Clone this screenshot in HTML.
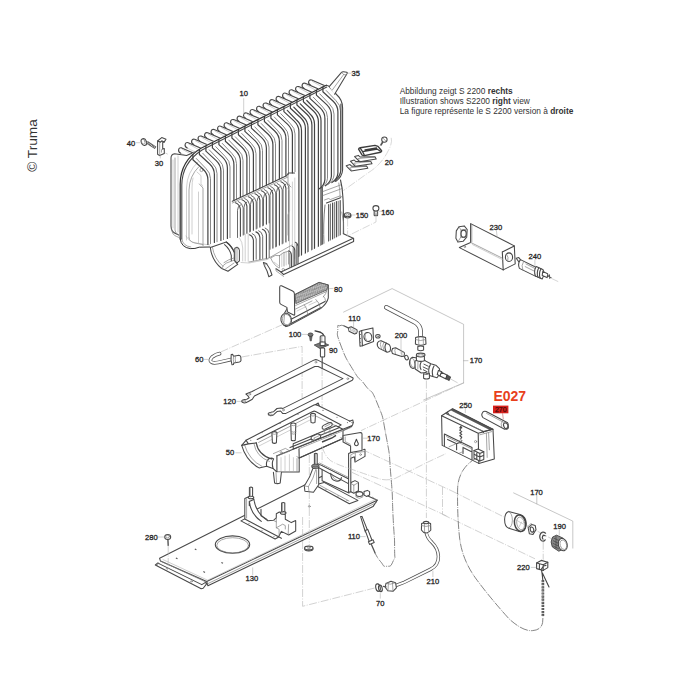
<!DOCTYPE html>
<html><head><meta charset="utf-8"><title>Truma S 2200</title>
<style>
html,body{margin:0;padding:0;background:#fff;}
body{width:700px;height:700px;overflow:hidden;font-family:"Liberation Sans",sans-serif;}
svg{display:block;position:absolute;left:0;top:0;}
svg text{font-family:"Liberation Sans",sans-serif;}
.l{fill:none;stroke:#484848;stroke-width:1.1;stroke-linecap:round;stroke-linejoin:round}
.m{fill:none;stroke:#808080;stroke-width:.7;stroke-linecap:round;stroke-linejoin:round}
.g{fill:none;stroke:#a8a8a8;stroke-width:.55;stroke-linecap:round;stroke-linejoin:round}
.l2{fill:none;stroke:#5a5a5a;stroke-width:.9;stroke-linecap:round;stroke-linejoin:round}
.f1{fill:none;stroke:#444;stroke-width:1.2;stroke-linecap:round;stroke-linejoin:round}
.f2{fill:none;stroke:#7a7a7a;stroke-width:.9;stroke-linecap:round;stroke-linejoin:round}
.g2{fill:none;stroke:#727272;stroke-width:.95;stroke-linecap:round;stroke-linejoin:round}
.w{fill:#fff;stroke:#484848;stroke-width:1.05;stroke-linejoin:round;stroke-linecap:round}
.wm{fill:#fff;stroke:#777;stroke-width:.6;stroke-linejoin:round}
.d{fill:none;stroke:#b4b4b4;stroke-width:.6;stroke-dasharray:8 1.5 1 1.5}
.dd{fill:none;stroke:#666;stroke-width:.8;stroke-dasharray:8.5 1.1 .9 1.1}
.t{font-size:7.6px;fill:#262626;text-anchor:middle;stroke:#262626;stroke-width:.3}
.k{fill:none;stroke:#333;stroke-width:1;stroke-linecap:round;stroke-linejoin:round}
</style></head><body>
<svg width="700" height="700" viewBox="0 0 700 700">
<rect width="700" height="700" fill="#fff"/>
<!-- p00_text.py -->
<g font-size="8.33" fill="#333">
<text x="399.7" y="93.8">Abbildung zeigt S 2200 <tspan font-weight="bold">rechts</tspan></text>
<text x="399.7" y="104.1">Illustration shows S2200 <tspan font-weight="bold">right</tspan> view</text>
<text x="399.7" y="114.3">La figure représente le S 2200 version à <tspan font-weight="bold">droite</tspan></text>
</g>
<text transform="translate(37,171.8) rotate(-90)" font-size="13.7" fill="#333">© Truma</text>
<text class="t" x="243.7" y="96.45">10</text>
<text class="t" x="355.7" y="76.35">35</text>
<text class="t" x="131" y="145.55">40</text>
<text class="t" x="159" y="166.05">30</text>
<text class="t" x="389" y="165.45">20</text>
<text class="t" x="362" y="217.75">150</text>
<text class="t" x="387.7" y="215.25">160</text>
<text class="t" x="495.9" y="229.55">230</text>
<text class="t" x="534.9" y="258.75">240</text>
<text class="t" x="338.3" y="292.05">80</text>
<text class="t" x="354.4" y="320.95">110</text>
<text class="t" x="401" y="337.65">200</text>
<text class="t" x="295" y="337.05">100</text>
<text class="t" x="333.2" y="353.45">90</text>
<text class="t" x="199.3" y="362.05">60</text>
<text class="t" x="229.6" y="404.15">120</text>
<text class="t" x="476" y="363.15">170</text>
<text class="t" x="230.1" y="455.45">50</text>
<text class="t" x="373.6" y="440.65">170</text>
<text class="t" x="465.6" y="407.85">250</text>
<text class="t" x="536.5" y="494.65">170</text>
<text class="t" x="559.7" y="529.35">190</text>
<text class="t" x="523.3" y="569.85">220</text>
<text class="t" x="151.4" y="539.65">280</text>
<text class="t" x="251.8" y="581.45">130</text>
<text class="t" x="354" y="539.35">110</text>
<text class="t" x="432.9" y="583.65">210</text>
<text class="t" x="380.3" y="605.95">70</text>
<text x="493.4" y="401.3" font-size="14" font-weight="bold" fill="#e8401c">E027</text>
<rect x="493" y="405.6" width="15.4" height="7.7" fill="#d8201c"/>
<text x="500.8" y="412" font-size="7" fill="#4a0808" stroke="#4a0808" stroke-width=".25" text-anchor="middle">270</text>
<!-- p10_heatex.py -->
<g><path fill="#fff" stroke="none" d="M317.7 88.9 L310.7 85.3 q-2.8 -1.4 -2 -3.9 q.7 -2 3 -1.4 L324.4 85.5Z"/><path class="g" d="M317.7 88.9 L310.7 85.3"/><path class="l" d="M310.7 85.3 q-2.8 -1.4 -2 -3.9 q.7 -2 3 -1.4 L324.4 85.5"/><path class="g" d="M312.3 81.4 L321.9 86.7"/><path fill="#fff" stroke="none" d="M311.2 92.2 L304.2 88.6 q-2.8 -1.4 -2 -3.9 q.7 -2 3 -1.4 L317.9 88.8Z"/><path class="g" d="M311.2 92.2 L304.2 88.6"/><path class="l" d="M304.2 88.6 q-2.8 -1.4 -2 -3.9 q.7 -2 3 -1.4 L317.9 88.8"/><path class="g" d="M305.8 84.7 L315.4 90"/><path fill="#fff" stroke="none" d="M304.7 95.5 L297.7 91.9 q-2.8 -1.4 -2 -3.9 q.7 -2 3 -1.4 L311.4 92.1Z"/><path class="g" d="M304.7 95.5 L297.7 91.9"/><path class="l" d="M297.7 91.9 q-2.8 -1.4 -2 -3.9 q.7 -2 3 -1.4 L311.4 92.1"/><path class="g" d="M299.3 88 L308.9 93.3"/><path fill="#fff" stroke="none" d="M298.2 98.8 L291.2 95.2 q-2.8 -1.4 -2 -3.9 q.7 -2 3 -1.4 L304.9 95.4Z"/><path class="g" d="M298.2 98.8 L291.2 95.2"/><path class="l" d="M291.2 95.2 q-2.8 -1.4 -2 -3.9 q.7 -2 3 -1.4 L304.9 95.4"/><path class="g" d="M292.8 91.3 L302.4 96.6"/><path fill="#fff" stroke="none" d="M291.7 102.1 L284.7 98.5 q-2.8 -1.4 -2 -3.9 q.7 -2 3 -1.4 L298.4 98.7Z"/><path class="g" d="M291.7 102.1 L284.7 98.5"/><path class="l" d="M284.7 98.5 q-2.8 -1.4 -2 -3.9 q.7 -2 3 -1.4 L298.4 98.7"/><path class="g" d="M286.3 94.6 L295.9 99.9"/><path fill="#fff" stroke="none" d="M285.2 105.4 L278.2 101.8 q-2.8 -1.4 -2 -3.9 q.7 -2 3 -1.4 L291.9 102Z"/><path class="g" d="M285.2 105.4 L278.2 101.8"/><path class="l" d="M278.2 101.8 q-2.8 -1.4 -2 -3.9 q.7 -2 3 -1.4 L291.9 102"/><path class="g" d="M279.8 97.9 L289.4 103.2"/><path fill="#fff" stroke="none" d="M278.7 108.7 L271.7 105.1 q-2.8 -1.4 -2 -3.9 q.7 -2 3 -1.4 L285.4 105.3Z"/><path class="g" d="M278.7 108.7 L271.7 105.1"/><path class="l" d="M271.7 105.1 q-2.8 -1.4 -2 -3.9 q.7 -2 3 -1.4 L285.4 105.3"/><path class="g" d="M273.3 101.2 L282.9 106.5"/><path fill="#fff" stroke="none" d="M272.2 112 L265.2 108.4 q-2.8 -1.4 -2 -3.9 q.7 -2 3 -1.4 L278.9 108.6Z"/><path class="g" d="M272.2 112 L265.2 108.4"/><path class="l" d="M265.2 108.4 q-2.8 -1.4 -2 -3.9 q.7 -2 3 -1.4 L278.9 108.6"/><path class="g" d="M266.8 104.5 L276.4 109.8"/><path fill="#fff" stroke="none" d="M265.7 115.3 L258.7 111.7 q-2.8 -1.4 -2 -3.9 q.7 -2 3 -1.4 L272.4 111.9Z"/><path class="g" d="M265.7 115.3 L258.7 111.7"/><path class="l" d="M258.7 111.7 q-2.8 -1.4 -2 -3.9 q.7 -2 3 -1.4 L272.4 111.9"/><path class="g" d="M260.3 107.8 L269.9 113.1"/><path fill="#fff" stroke="none" d="M259.2 118.6 L252.2 115 q-2.8 -1.4 -2 -3.9 q.7 -2 3 -1.4 L265.9 115.2Z"/><path class="g" d="M259.2 118.6 L252.2 115"/><path class="l" d="M252.2 115 q-2.8 -1.4 -2 -3.9 q.7 -2 3 -1.4 L265.9 115.2"/><path class="g" d="M253.8 111.1 L263.4 116.4"/><path fill="#fff" stroke="none" d="M252.7 121.9 L245.7 118.3 q-2.8 -1.4 -2 -3.9 q.7 -2 3 -1.4 L259.4 118.5Z"/><path class="g" d="M252.7 121.9 L245.7 118.3"/><path class="l" d="M245.7 118.3 q-2.8 -1.4 -2 -3.9 q.7 -2 3 -1.4 L259.4 118.5"/><path class="g" d="M247.3 114.4 L256.9 119.7"/><path fill="#fff" stroke="none" d="M246.2 125.2 L239.2 121.6 q-2.8 -1.4 -2 -3.9 q.7 -2 3 -1.4 L252.9 121.8Z"/><path class="g" d="M246.2 125.2 L239.2 121.6"/><path class="l" d="M239.2 121.6 q-2.8 -1.4 -2 -3.9 q.7 -2 3 -1.4 L252.9 121.8"/><path class="g" d="M240.8 117.7 L250.4 123"/><path fill="#fff" stroke="none" d="M239.7 128.5 L232.7 124.9 q-2.8 -1.4 -2 -3.9 q.7 -2 3 -1.4 L246.4 125.1Z"/><path class="g" d="M239.7 128.5 L232.7 124.9"/><path class="l" d="M232.7 124.9 q-2.8 -1.4 -2 -3.9 q.7 -2 3 -1.4 L246.4 125.1"/><path class="g" d="M234.3 121 L243.9 126.3"/><path fill="#fff" stroke="none" d="M233.2 131.8 L226.2 128.2 q-2.8 -1.4 -2 -3.9 q.7 -2 3 -1.4 L239.9 128.4Z"/><path class="g" d="M233.2 131.8 L226.2 128.2"/><path class="l" d="M226.2 128.2 q-2.8 -1.4 -2 -3.9 q.7 -2 3 -1.4 L239.9 128.4"/><path class="g" d="M227.8 124.3 L237.4 129.6"/><path fill="#fff" stroke="none" d="M226.7 135.1 L219.7 131.5 q-2.8 -1.4 -2 -3.9 q.7 -2 3 -1.4 L233.4 131.7Z"/><path class="g" d="M226.7 135.1 L219.7 131.5"/><path class="l" d="M219.7 131.5 q-2.8 -1.4 -2 -3.9 q.7 -2 3 -1.4 L233.4 131.7"/><path class="g" d="M221.3 127.6 L230.9 132.9"/><path fill="#fff" stroke="none" d="M220.2 138.4 L213.2 134.8 q-2.8 -1.4 -2 -3.9 q.7 -2 3 -1.4 L226.9 135Z"/><path class="g" d="M220.2 138.4 L213.2 134.8"/><path class="l" d="M213.2 134.8 q-2.8 -1.4 -2 -3.9 q.7 -2 3 -1.4 L226.9 135"/><path class="g" d="M214.8 130.9 L224.4 136.2"/><path fill="#fff" stroke="none" d="M213.7 141.7 L206.7 138.1 q-2.8 -1.4 -2 -3.9 q.7 -2 3 -1.4 L220.4 138.3Z"/><path class="g" d="M213.7 141.7 L206.7 138.1"/><path class="l" d="M206.7 138.1 q-2.8 -1.4 -2 -3.9 q.7 -2 3 -1.4 L220.4 138.3"/><path class="g" d="M208.3 134.2 L217.9 139.5"/><path fill="#fff" stroke="none" d="M207.2 145 L200.2 141.4 q-2.8 -1.4 -2 -3.9 q.7 -2 3 -1.4 L213.9 141.6Z"/><path class="g" d="M207.2 145 L200.2 141.4"/><path class="l" d="M200.2 141.4 q-2.8 -1.4 -2 -3.9 q.7 -2 3 -1.4 L213.9 141.6"/><path class="g" d="M201.8 137.5 L211.4 142.8"/><path fill="#fff" stroke="none" d="M200.7 148.2 L193.7 144.6 q-2.8 -1.4 -2 -3.9 q.7 -2 3 -1.4 L207.4 144.8Z"/><path class="g" d="M200.7 148.2 L193.7 144.6"/><path class="l" d="M193.7 144.6 q-2.8 -1.4 -2 -3.9 q.7 -2 3 -1.4 L207.4 144.8"/><path class="g" d="M195.3 140.7 L204.9 146"/><path fill="#fff" stroke="none" d="M194.2 151.6 L187.2 148 q-2.8 -1.4 -2 -3.9 q.7 -2 3 -1.4 L200.9 148.2Z"/><path class="g" d="M194.2 151.6 L187.2 148"/><path class="l" d="M187.2 148 q-2.8 -1.4 -2 -3.9 q.7 -2 3 -1.4 L200.9 148.2"/><path class="g" d="M188.8 144.1 L198.4 149.4"/><path fill="#fff" stroke="none" d="M187.7 156.8 L180.7 153.2 q-2.8 -1.4 -2 -3.9 q.7 -2 3 -1.4 L194.4 153.4Z"/><path class="g" d="M187.7 156.8 L180.7 153.2"/><path class="l" d="M180.7 153.2 q-2.8 -1.4 -2 -3.9 q.7 -2 3 -1.4 L194.4 153.4"/><path class="g" d="M182.3 149.3 L191.9 154.6"/></g>
<path class="w" d="M171 158 q0 -3.6 3.6 -4.2 l12 1.6 l14 -6 l-14 24 v55 q0 6 -5 8 l-5 -2.4 q-5.6 -2 -5.6 -8z"/>
<path class="m" d="M175 158 v72 q0 3 3 4.6"/><path class="g" d="M173 160 v68 M178 156 v76"/>
<path fill="#fff" stroke="none" d="M179 240 V184 Q179 160 201 147.6 L326 85 L336 92 Q343 97 343 108 V236 L300 262 L262 278 L250 262 L240 270 L212 268 L205 248 L188 247 Q180 246 179 240Z"/>
<path class="g" d="M186.5 240 V188 Q187 172 198 162"/>
<path class="m" d="M189 238 V190 Q189.4 176 198.6 167 M189 238 q.6 4 6 5 l8 1.6"/>
<path class="m" d="M203 245.6 V188 l-3.6 -4"/><path class="g" d="M198.5 243 V192"/>
<path class="g" d="M197 172 l4 3.6 v8 l1.6 2.4 M193 178 q-1 4 -1 10 v46"/>
<path class="g" d="M186 236 q3 6 10 7 l14 2"/>
<circle class="m" cx="201.5" cy="170" r="1.6"/>
<g><path class="f1" d="M322.9 86.8 v5 L333.2 101.3 Q337.9 105.8 337.9 111.8 V173.1 q-.5 6 -6 9.5"/><path class="f2" d="M326.3 90.6 L335.8 100.5 Q340.5 104.8 340.5 110.8 V171.8 q-.5 6 -6 9.5"/><path class="f1" d="M316.4 90.1 v5 L326.7 104.6 Q331.4 109.1 331.4 115.1 V176.3 q-.5 6 -6 9.5"/><path class="f2" d="M319.8 93.9 L329.3 103.8 Q334 108.1 334 114.1 V175 q-.5 6 -6 9.5"/><path class="f1" d="M309.9 93.4 v5 L320.2 107.9 Q324.9 112.4 324.9 118.4 V179.6 q-.5 6 -6 9.5"/><path class="f2" d="M313.3 97.2 L322.8 107.1 Q327.5 111.4 327.5 117.4 V178.2 q-.5 6 -6 9.5"/><path class="f1" d="M303.4 96.7 v5 L313.7 111.2 Q318.4 115.7 318.4 121.7 V252.9"/><path class="f1" d="M306.8 100.5 L316.3 110.4 Q321 114.7 321 120.7 V251.7"/><path class="f1" d="M296.9 100 v5 L307.2 114.5 Q311.9 119 311.9 125 V256"/><path class="f1" d="M300.3 103.8 L309.8 113.7 Q314.5 118 314.5 124 V254.8"/><path class="f1" d="M290.4 103.3 v5 L300.7 117.8 Q305.4 122.3 305.4 128.3 V259.1"/><path class="f1" d="M293.8 107.1 L303.3 117 Q308 121.3 308 127.3 V257.8"/><path class="f1" d="M283.9 106.6 v5 L294.2 121.1 Q298.9 125.6 298.9 131.6 V262.1"/><path class="f1" d="M287.3 110.4 L296.8 120.3 Q301.5 124.6 301.5 130.6 V260.9"/><path class="f1" d="M277.4 109.9 v5 L287.7 124.4 Q292.4 128.9 292.4 134.9 V172.9"/><path class="f2" d="M280.8 113.7 L290.3 123.6 Q295 127.9 295 133.9 V171.6"/><path class="f1" d="M270.9 113.2 v5 L281.2 127.7 Q285.9 132.2 285.9 138.2 V175.9"/><path class="f2" d="M274.3 117 L283.8 126.9 Q288.5 131.2 288.5 137.2 V174.7"/><path class="f1" d="M264.4 116.5 v5 L274.7 131 Q279.4 135.5 279.4 141.5 V179"/><path class="f2" d="M267.8 120.3 L277.3 130.2 Q282 134.5 282 140.5 V177.8"/><path class="f1" d="M257.9 119.8 v5 L268.2 134.3 Q272.9 138.8 272.9 144.8 V182"/><path class="f2" d="M261.3 123.6 L270.8 133.5 Q275.5 137.8 275.5 143.8 V180.8"/><path class="f1" d="M251.4 123.1 v5 L261.7 137.6 Q266.4 142.1 266.4 148.1 V185.1"/><path class="f2" d="M254.8 126.9 L264.3 136.8 Q269 141.1 269 147.1 V183.9"/><path class="f1" d="M244.9 126.4 v5 L255.2 140.9 Q259.9 145.4 259.9 151.4 V188.1"/><path class="f2" d="M248.3 130.2 L257.8 140.1 Q262.5 144.4 262.5 150.4 V186.9"/><path class="f1" d="M238.4 129.7 v5 L248.7 144.2 Q253.4 148.7 253.4 154.7 V191.2"/><path class="f2" d="M241.8 133.5 L251.3 143.4 Q256 147.7 256 153.7 V190"/><path class="f1" d="M231.9 133 v5 L242.2 147.5 Q246.9 152 246.9 158 V194.2"/><path class="f2" d="M235.3 136.8 L244.8 146.7 Q249.5 151 249.5 157 V193"/><path class="f1" d="M225.4 136.3 v5 L235.7 150.8 Q240.4 155.3 240.4 161.3 V197.3"/><path class="f2" d="M228.8 140.1 L238.3 150 Q243 154.3 243 160.3 V196.1"/><path class="f1" d="M218.9 139.6 v5 L229.2 154.1 Q233.9 158.6 233.9 164.6 V200.4"/><path class="f2" d="M222.3 143.4 L231.8 153.3 Q236.5 157.6 236.5 163.6 V199.1"/><path class="f1" d="M212.4 142.9 v5 L222.7 157.4 Q227.4 161.9 227.4 167.9 V238.4"/><path class="f2" d="M215.8 146.7 L225.3 156.6 Q230 160.9 230 166.9 V237.6"/><path class="f1" d="M205.9 146.1 v5 L216.2 160.6 Q220.9 165.1 220.9 171.1 V240.5"/><path class="f2" d="M209.3 149.9 L218.8 159.8 Q223.5 164.1 223.5 170.1 V239.6"/><path class="f1" d="M199.4 149.5 v5 L209.7 164 Q214.4 168.5 214.4 174.5 V242.5"/><path class="f2" d="M202.8 153.3 L212.3 163.2 Q217 167.5 217 173.5 V241.7"/><path class="f1" d="M192.9 154.7 v5 L203.2 169.2 Q207.9 173.7 207.9 179.7 V244.5"/><path class="f2" d="M196.3 158.5 L205.8 168.4 Q210.5 172.7 210.5 178.7 V243.7"/><path class="l" d="M326.3 85.3 q2.5 .2 3.5 2 L337 95 Q342.6 100 342.6 108 V170 q-.5 7 -7 11.5"/><path class="l" d="M340.9 104 V170 q-.5 6 -6 10.5"/></g>
<g><path class="l" d="M280.9 181.7 q4 1.2 5 6.5 V242"/><path class="l2" d="M283 243.2 V189.3 q.2 -4.6 3 -5.4 M283.7 180.4 q4 1.2 5 6.5 V240.8"/><path class="l" d="M274.4 184.7 q4 1.2 5 6.5 V245.1"/><path class="l2" d="M276.5 246.3 V192.3 q.2 -4.6 3 -5.4 M277.2 183.4 q4 1.2 5 6.5 V243.9"/><path class="l" d="M267.9 187.7 q4 1.2 5 6.5 V248.1"/><path class="l2" d="M270 249.3 V195.3 q.2 -4.6 3 -5.4 M270.7 186.4 q4 1.2 5 6.5 V246.9"/><path class="l" d="M261.4 190.7 q4 1.2 5 6.5 V224.1"/><path class="l2" d="M263.5 225.3 V198.3 q.2 -4.6 3 -5.4 M264.2 189.4 q4 1.2 5 6.5 V222.9"/><path class="l" d="M254.9 193.7 q4 1.2 5 6.5 V227.1"/><path class="l2" d="M257 228.3 V201.3 q.2 -4.6 3 -5.4 M257.7 192.4 q4 1.2 5 6.5 V225.9"/><path class="l" d="M248.4 196.7 q4 1.2 5 6.5 V230.2"/><path class="l2" d="M250.5 231.4 V204.3 q.2 -4.6 3 -5.4 M251.2 195.4 q4 1.2 5 6.5 V229"/><path class="l" d="M241.9 199.7 q4 1.2 5 6.5 V233.2"/><path class="l2" d="M244 234.4 V207.3 q.2 -4.6 3 -5.4 M244.7 198.4 q4 1.2 5 6.5 V232"/><path class="l" d="M235.4 202.7 q4 1.2 5 6.5 V236.3"/><path class="l2" d="M237.5 237.5 V210.3 q.2 -4.6 3 -5.4 M238.2 201.4 q4 1.2 5 6.5 V235.1"/><path class="l" d="M232.3 201.2 L286.5 175.8 l2 -2.8 h6"/><path class="m" d="M232.3 203 L287.5 177.2"/><path class="l" d="M262.4 229.2 q3.3 1 4 5.5 V258.7"/><path class="l2" d="M265.2 228 q3.3 1 4 5.5 V257.7"/><path class="l" d="M255.9 231.9 q3.3 1 4 5.5 V259.5"/><path class="l2" d="M258.7 230.7 q3.3 1 4 5.5 V258.5"/><path class="l" d="M249.4 234.7 q3.3 1 4 5.5 V260.2"/><path class="l2" d="M252.2 233.5 q3.3 1 4 5.5 V259.2"/></g>
<path class="g" d="M289.5 184 V250 M292.4 182 V246 M294.8 178 V262 M287.6 188 l2 3 v20 l-2 4 v20"/>
<path class="m" d="M288 175 v9 l3 3"/>
<path class="l" d="M322.3 187 V247"/>
<path class="m" d="M323 191.5 l17.5 -6.5 M323 195.5 l18.5 -6.8 M324.5 200 l4 -1.5 l2 1 l9.5 -3.6 l2.2 1.2"/>
<path class="l" d="M340.5 180 q2 8 2.3 16 q.8 8 .6 38"/>
<path class="m" d="M338.8 183 q1.2 8 1.4 14"/>
<path class="l" d="M326.5 203 l14 -5.2 M328.7 204.5 V246 M332.6 203 V244 M336.4 201.6 V242.3 M340.2 200.5 V240"/>
<path class="g2" d="M330.5 204 V245 M334.4 202.5 V243.2 M338.2 201.2 V241.5 M325 205 q-2 18 -1 40"/>
<path class="m" d="M341.8 212 q2.6 10 2 22"/>
<path class="w" d="M276 268.8 L281 272 L353.3 238.3 L343.4 233.8"/>
<path class="l" d="M281 272 l2.6 2.6 L353.6 241.6 V238.3"/>
<path class="m" d="M276 268.8 l0 2 l7.5 5.6"/>
<circle class="m" cx="283.3" cy="269.6" r="1.2"/>
<path class="m" d="M270.5 258 q5 -4 9 -2.5 M279.5 255.5 v12 M284 252.5 v13.5 M288.5 251.5 v12.5 M279.5 255.5 q3 -3.5 9.5 -4.5 M271 258.5 q2 6 8 9.5"/>
<path class="g" d="M281.8 254 v12.5 M286.2 252 v13 M274 262 l5 4"/>
<path class="l" d="M291.4 255.0 q-.3 -3.3 -2.6 -4.2 M291.4 255.0 V266.8"/>
<path class="g2" d="M289.79999999999995 253.0 V267.6"/>
<path class="l" d="M294.8 250.5 q-.3 -3.3 -2.6 -4.2 M294.8 250.5 V265.2"/>
<path class="g2" d="M293.2 248.5 V266.0"/>
<path class="l" d="M298 246.5 q-.3 -3.3 -2.6 -4.2 M298 246.5 V263.6"/>
<path class="g2" d="M296.4 244.5 V264.40000000000003"/>
<path class="w" d="M263.4 262.5 l3 1 q4 5 5.6 11.5 l-3.2 1.7 q-1.5 -6.5 -4.4 -11z"/>
<path class="m" d="M264.6 265.3 l2.6 -1.2"/>
<path class="w" d="M210.3 247.5 q1.5 13 11.4 21 l6.3 2.8 l9.7 -6.9 l-3.4 -4 v-8 q-2.5 -6.5 -8 -10.4z"/>
<path class="m" d="M212.4 247.3 q1.8 11.5 10.6 19 M221.7 268.4 q.8 -3.2 4.6 -5.3 l8 -3"/>
<path class="l" d="M226.3 242 q6 5 8 10.4 M224.6 244.6 q5.5 4.6 6.7 11 l0 5"/>
<path class="m" d="M224 262.6 q4 -3 10.2 -4.8 M225.5 269 l8.5 -6"/>
<path class="w" d="M234.8 248.3 l2.2 -1 q2.2 .8 2.4 3 v10.6 l-2.4 2 l-2.2 -2.4z"/>
<path class="m" d="M237 247.3 v13.5"/>
<path class="g" d="M239.5 238 q3 4 3.2 10 v13 M245.2 234 v27 M248.2 233.4 v28 M241 262.5 l8 .5 l19 -3.6"/>
<path class="m" d="M249 262 l19.5 -3.8 L292 245"/>
<path class="k" d="M180.2 239 q1 8.4 10 9.6 q5 .4 9 -1.4 l10.6 -.2"/>
<path class="m" d="M181.8 239 q1 7 9 8"/>
<path class="m" d="M171.6 229 q.4 6 5 7.5 l2.6 1"/>
<path class="k" style="stroke-width:1.25" d="M180.2 239 V184 Q180.2 161 201 148.2 L326.3 85.2"/>
<path class="l" d="M181.8 239 V185 Q182 163 202 150 L326.8 87"/>
<!-- p20_small_top.py -->
<path class="w" d="M329.2 86.6 L341.5 72.4 q.8 -.9 2 -.7 l3.2 .5 q.9 .4 .4 1.4 L334.6 94.2"/>
<path class="m" d="M332.3 90 L343.6 74.6 l3 .2 M343.6 74.6 l-1.6 -2"/>
<path class="g" d="M348.2 73.2 h3"/>
<path class="w" d="M157.6 141 l4.1 -3.4 l4.3 1.7 l-1.7 2.6 l-2.6 -.8 l-1.4 1.2z"/>
<path class="w" d="M157.6 141 V154.3 l2 1.3 l4.7 -2.2 V148.6 l-1.6 .5 V142.6 l1.6 -.7 l-2.6 -.8 l-1.4 1.2z"/>
<path class="m" d="M159.7 142.3 v13 M162.7 149.1 l-1.2 .5 v2.6"/>
<path class="g" d="M160.3 156 v2 M165.8 153.2 l1.6 .8"/>
<path d="M146.9 142.2 L155.6 147.9" style="stroke:#555;stroke-width:2.9;fill:none"/>
<path d="M147.3 142.5 L155.2 147.7" style="stroke:#ddd;stroke-width:1.5;stroke-dasharray:.8 .8;fill:none"/>
<ellipse class="w" cx="143.9" cy="142.1" rx="2.6" ry="3.5" transform="rotate(-22 143.9 142.1)"/>
<ellipse class="m" cx="143.3" cy="141.8" rx="1.7" ry="2.6" transform="rotate(-22 143.3 141.8)"/>
<path class="g" d="M136.4 142.7 h3.4"/>
<path style="stroke:#bdbdbd" class="d" d="M391.2 137.8 q1.5 5 -3 13 q-7 14 -20 22 L343.5 190.5"/>
<path class="g" d="M380 145.4 l3 -5"/>
<path style="stroke-width:1.5;stroke:#555" class="k" d="M381 145 l1.8 -3"/>
<circle class="w" cx="384.4" cy="139.6" r="2.7"/><path class="m" d="M383 138.2 l2.8 2.8"/>
<path class="w" transform="translate(-8.4 9.2)" d="M354.6 156.6 l3.8 -1.2 l1.6 1.6 l15 -.2 l1.2 2.3 l-16.6 2.6 z"/>
<path class="m" transform="translate(-8.4 9.2)" d="M359.6 160.4 l-1.6 -1.8 l16.4 -1.6"/>
<path class="w" transform="translate(-4.2 4.6)" d="M354.6 156.6 l3.8 -1.2 l1.6 1.6 l15 -.2 l1.2 2.3 l-16.6 2.6 z"/>
<path class="m" transform="translate(-4.2 4.6)" d="M359.6 160.4 l-1.6 -1.8 l16.4 -1.6"/>
<path class="w" transform="translate(0 0)" d="M354.6 156.6 l3.8 -1.2 l1.6 1.6 l15 -.2 l1.2 2.3 l-16.6 2.6 z"/>
<path class="m" transform="translate(0 0)" d="M359.6 160.4 l-1.6 -1.8 l16.4 -1.6"/>
<path style="stroke-width:1.4;stroke:#3c3c3c" class="w" d="M358.6 149.2 q.2 -1.2 1.6 -1.5 L375 145.4 l3 1 l3.6 4.4 q.2 .9 -1 1.4 L364.4 155.6 q-1.4 .2 -2.4 -.6z"/>
<path class="l" style="stroke-width:1.3;stroke:#3c3c3c" d="M362.6 151.6 L377.4 149.2 l3 2 M362.6 151.6 l1.8 3.6 M365 150 l11.5 -2 M360.4 148.4 l2.2 3.2"/>
<ellipse class="w" cx="347.6" cy="215.8" rx="3.4" ry="2.2"/><ellipse class="w" cx="347.6" cy="214.8" rx="3.2" ry="2"/><ellipse class="m" cx="347.6" cy="214.6" rx="1.5" ry=".9"/>
<path class="g" d="M352 215 h3"/>
<path style="stroke:#bdbdbd" class="d" d="M347.6 218.5 V236 M376 217 V222 L347.6 236"/>
<rect class="w" x="374.2" y="209.5" width="3.4" height="6.3" rx=".6"/>
<path class="m" d="M374.2 211.6 h3.4 M374.2 213.2 h3.4 M374.2 214.6 h3.4"/>
<ellipse class="w" cx="375.9" cy="208.3" rx="3" ry="2.7"/>
<path class="g" d="M379.6 211.3 h2.4"/>
<path class="g" d="M243.7 98.6 V114.5"/>
<!-- p30_box230.py -->
<path class="w" d="M459 226.8 l5.2 -.9 l3 3.6 l-.5 7.6 l-3.6 4.2 l-5.2 .6 l-2 -3.6 l.4 -7.4z"/>
<path class="m" d="M459 226.8 l2 3.2 l-.4 7.4 l-2.7 4.5 M461 230 l5.8 -.6 M460.6 237.4 l6 -.4"/>
<ellipse class="l" cx="463.6" cy="233.7" rx="2.6" ry="3.6"/>
<path class="w" d="M470.6 223.6 L514.3 245.9 L515.2 263.9 L503.2 269.9 L459.4 247.6 L470.6 242.4z"/>
<path class="l" d="M502.3 251.9 L514.3 245.9 M502.3 251.9 L503.2 269.9"/>
<path class="m" d="M470.6 242.4 L502.6 258.3 M471.8 224.2 l0 17.6"/>
<path class="g" d="M472.5 244.6 L502.8 259.8"/>
<ellipse class="l" cx="509" cy="257.2" rx="3.6" ry="4.3"/><path class="m" d="M506.6 254.2 q2.4 3 1.2 7"/>
<circle class="m" cx="464.8" cy="246.8" r=".8"/>
<path class="g" d="M496.4 230.6 l.8 6.8"/>
<path style="stroke:#bbb" class="d" d="M551 278.2 L559 282"/>
<path class="w" d="M516.2 258.2 l2.6 -.6 l2.8 3.4 l-2.2 1.6z"/>
<path class="w" d="M520.4 259.6 L537 267.8 q2.4 3.6 -1.2 8.6 L519.4 268.4 q-2 -4.6 1 -8.8z"/>
<path class="m" d="M523.6 261.2 q-2.8 4.4 -.8 9 M526 264 l10 5 M525.2 266.6 l10 5"/>
<path class="w" d="M536.2 266.6 l6.6 2.8 q2.6 4 -.6 9.6 l-6.8 -3 q-2 -4.8 .8 -9.4z"/>
<path class="l" d="M538.8 267.8 q-2.6 4.6 -.8 9.4 M541 268.8 q-2.6 4.6 -.8 9.4"/>
<path class="w" d="M542.8 271.4 l4.8 2.4 q.8 1.8 -.6 3.8 l-4.8 -2.2z"/>
<path style="stroke-width:1.1;stroke:#555" class="k" d="M547.4 275.6 l3.6 1.8 M549.4 274.8 l.4 3.6"/>
<path class="g" d="M534.9 259.8 v6.4"/>
<!-- p40_burner80.py -->
<defs><pattern id="perf" width="2.6" height="2.1" patternUnits="userSpaceOnUse" patternTransform="rotate(-26) skewX(20)"><rect width="2.6" height="2.1" fill="#c4c4c4"/><ellipse cx="1.3" cy="1.05" rx=".8" ry=".55" fill="#fff" stroke="#4a4a4a" stroke-width=".5"/></pattern></defs>
<path class="w" d="M295.1 294.4 L319.1 282.4 L328.3 284.9 V297.9 Q327 303.6 320.6 308.6 L289.6 325.4 L286 326.6 L283 324 L284 314z"/>
<path d="M295.1 294.6 L319.1 282.5 L328.2 285 L326.9 289.9 L295.8 303.6z" fill="url(#perf)" stroke="#505050" stroke-width=".8" stroke-linejoin="round"/>
<path class="m" d="M295.8 305.4 L326.4 291.6 M295.6 309 L312 301 M326.9 289.9 q-.6 4 -3.6 7"/>
<path class="l" d="M291.6 319 L325 301.6 M291 323.6 L321 307.4"/>
<path class="m" d="M304.4 304.8 q3 3.4 3.4 9.8 M315.8 299.4 q3.6 3 4.6 8.4 M323.6 296.4 q2 2 2 4.6"/>
<path class="g" d="M297 311 l9 -4.4 M309 305 l8 -3.6"/>
<ellipse class="w" cx="286.2" cy="319.6" rx="5.3" ry="6.3" transform="rotate(-12 286.2 319.6)"/>
<ellipse class="m" cx="286.6" cy="319.6" rx="4.2" ry="5.2" transform="rotate(-12 286.6 319.6)"/>
<path class="m" d="M284.6 313.4 l-1 12 M288 325.8 l3 -2"/>
<path class="w" d="M279.7 287.2 q.2 -1.8 1.8 -1.4 L292.6 291 q1.8 .9 1.8 2.8 L294.7 314.4 q0 1 -1 .6 L287.6 312 L286.8 307.4 L281 304.4 q-1.3 -.7 -1.3 -2.2z"/>
<path class="m" d="M286.8 307.4 l.2 6"/>
<path class="g" d="M329.6 288.6 l3.4 -.2"/>
<!-- p50_mid.py -->
<path class="d" d="M220.7 352 L283 324.4 M241.6 357 L302.1 346.4 V398"/>
<path fill="none" stroke="#505050" stroke-width="3.6" stroke-linecap="round" d="M219.6 353.6 q-3.4 .4 -7.4 3.4 q-3.4 3.6 -.6 5.2 q1.8 1.2 6.6 .2 L231.4 359.4"/>
<path fill="none" stroke="#fff" stroke-width="2.1" stroke-linecap="round" d="M219.6 353.6 q-3.4 .4 -7.4 3.4 q-3.4 3.6 -.6 5.2 q1.8 1.2 6.6 .2 L231.8 359.3"/>
<path class="w" d="M231.2 354.4 l1.4 -.2 l.9 2 l5.4 -1 q1.7 .2 1.9 1.8 l.2 3.4 q-.2 1.3 -1.6 1.6 l-5.6 1 l-.4 1.6 l-1.4 .2 q-1.5 -5 -.8 -10.4z"/>
<path class="m" d="M233.5 356.2 q-.6 3.6 .3 6.8 M235.4 355.9 q-.5 3.4 .2 6.6"/>
<path class="g" d="M204.4 359.4 h4"/>
<path d="M309.5 336.2 l.6 4.6 l1.2 .2 l.8 -4.8z" style="fill:#666;stroke:#444;stroke-width:.6"/>
<ellipse cx="310.5" cy="334.7" rx="2.5" ry="1.7" style="fill:#777;stroke:#3c3c3c;stroke-width:.9"/>
<path class="g" d="M302 334.4 h5"/>
<path class="d" d="M322.1 368 V470"/>
<path class="l" style="stroke-width:1.4;stroke:#3c3c3c" d="M315.1 330.9 l5.4 1.4 q2.6 1 3.2 3.2"/>
<rect class="w" x="320.2" y="335.8" width="4.8" height="7.6" rx="1"/><path class="m" d="M321.8 336 v7.2"/>
<path d="M314.2 345 l8 -3 l6.6 3 l-8.6 3.7z" fill="#777" stroke="#444" stroke-width=".8" stroke-linejoin="round"/>
<rect class="w" x="320.2" y="342" width="4.8" height="3.4"/>
<rect class="w" x="320.4" y="348" width="4.3" height="9" rx="1"/>
<path class="w" fill-rule="evenodd" d="M245.9 394 L252.1 391.5 L314.3 359.9 q1.6 -.6 3 0 L352.7 377.7 q1 .8 -.4 2.6 L285.4 413.6 l-2.8 -.2 l-2 -2.4 l-3.6 .6 l-2.8 2.6 q-1 1.4 -3.4 1.4 q-2.6 -.3 -2.7 -1.7 q.2 -1.5 2.8 -1.7 l2.7 -.5 l3.4 -3.2 l4 -.6 l2 .5 L342.9 378.6 L318.2 366.5 h-3.4 L254.4 396 l-2.1 3.3 l-4.4 2.4 q-1 1.2 -3.6 1.2 q-2.6 -.3 -2.7 -1.8 q.2 -1.5 2.8 -1.7 l2.4 -.1 l2.4 -1.5 l-1.4 -2.2z"/>
<circle class="m" cx="249.8" cy="394.2" r=".9"/><circle class="m" cx="315.9" cy="362.2" r=".9"/><circle class="m" cx="347.8" cy="378.7" r=".9"/><circle class="m" cx="283.4" cy="410" r=".9"/>
<ellipse class="m" cx="244" cy="401.1" rx="1.7" ry=".9"/><ellipse class="m" cx="270.6" cy="414.9" rx="1.7" ry=".9"/>
<path class="g" d="M237 401.4 h3.6"/>
<path style="stroke-width:1.2;stroke:#555" class="k" d="M322.2 357 V368.4"/>
<!-- p60_tray50.py -->
<path class="w" d="M246 440.3 L314 405 q1.6 -.7 3 0 L352.4 422.4 q1 .8 .2 2.4 l-.8 1.4 L343 430.6 V438.6 L299.2 458 V472 H276.9 L273 468.4 L266.6 466.2 L259 467.9 Q246 460.6 241.7 445.4 Z"/>
<path class="l" d="M257.2 439.5 L312.8 411.4 q1.4 -.6 2.8 0 L341.2 424.9 L336 428.3"/>
<path class="m" d="M258.6 442.4 L313 414.6 L336.4 426.2"/>
<path class="g" d="M259 446 L312 419"/>
<path class="l" d="M351.6 425.8 L277 455.8 M336 428.3 L290 447.6"/>
<path class="m" d="M351.2 427.4 L299.2 448.6"/>
<path class="l" d="M299.2 458 L343 438.6"/>
<path class="m" d="M299.2 458 l-2.4 -1.4 M343 438.6 l-2.2 -1"/>
<path class="l" d="M276.9 455.7 V472 M299.2 458 l-.2 -9"/>
<path class="m" d="M273.4 453.6 l12 -5.2 l4.6 2.6 l-13 5 M297 471.6 v-13"/>
<path class="g" d="M281 471.6 v-14 M285 471.6 v-15.6 M289.4 471.6 v-17 M293.4 471.6 v-14"/>
<circle class="m" cx="281.2" cy="452.6" r="1"/>
<path class="l" d="M256.3 442.9 Q258 454.6 271.7 459.1 M266.6 466.2 q-.8 -4.4 1.8 -7 q3 -2.2 5.2 -.2 q-2.2 3.4 -.6 9.4"/>
<path class="m" d="M244.4 444.6 Q249 460 262 466.4 M254 443.8 Q256 456.6 269.4 461.4"/>
<path class="l" d="M246 440.3 l2.4 3.6 l7.9 -1 M248.4 443.9 l-6.7 1.5"/>
<path class="w" d="M293.2 443.7 L336 425.7 L342.9 429.2 L293.2 448.9z"/>
<path class="l" d="M293.2 446.2 L339.6 427.4"/>
<path class="w" d="M311.2 436.8 l6.4 -3 l3 1.2 v2.6 l-6.4 2.8 l-3 -1.2z"/><path class="m" d="M314.2 438 l6.4 -3 M314.2 438 v2.4"/>
<path d="M322 442 l10 -4 l4 -2.6" style="stroke:#444;stroke-width:1.4;fill:none"/>
<path class="w" d="M271.9 432.4 q2.5 -1.6 5 0 l-.5 10.4 q-2 1.1 -4 0z"/>
<path class="m" d="M271.9 433.7 q2.5 1.4 5 0"/>
<path class="w" d="M290.8 423.8 q2.5 -1.6 5 0 l-.5 16.4 q-2 1.1 -4 0z"/>
<path class="m" d="M290.8 425.1 q2.5 1.4 5 0"/>
<path class="w" d="M310.5 414.2 q2.5 -1.6 5 0 l-.5 8.2 q-2 1.1 -4 0z"/>
<path class="m" d="M310.5 415.5 q2.5 1.4 5 0"/>
<path class="m" d="M291 431.6 q2.5 1.3 5 0 M291.2 433.6 q2.4 1.2 4.7 0"/>
<path class="w" d="M323.4 425.4 l5.4 -2.6 q2.6 -.6 3.4 1 q.4 1.6 -1.6 2.8 l-5.4 2.4 q-2.4 .6 -3 -.8 q-.4 -1.6 1.2 -2.8z"/>
<path class="m" d="M325 426.6 l5 -2.4 M324.4 429.6 v4 l5.4 -2.2 v-3.6"/>
<path class="w" d="M315.4 404.6 l2.8 -1.6 l1 2.6z"/><path class="w" d="M349.4 421.2 l3.4 -1.2 l.6 2.8"/>
<circle cx="262" cy="432.6" r=".55" fill="#666"/>
<circle cx="280" cy="423.4" r=".55" fill="#666"/>
<circle cx="298" cy="414.2" r=".55" fill="#666"/>
<circle cx="323" cy="410.4" r=".55" fill="#666"/>
<circle cx="337" cy="417.2" r=".55" fill="#666"/>
<circle cx="347.4" cy="422.6" r=".55" fill="#666"/>
<circle cx="330" cy="433" r=".55" fill="#666"/>
<circle cx="312" cy="440.6" r=".55" fill="#666"/>
<circle cx="250.8" cy="440.2" r=".55" fill="#666"/>
<path class="w" d="M273.4 472.2 l1.2 10.8 q2.8 1.3 5.6 0 l1.2 -10.8"/>
<path class="m" d="M276 472.6 l.6 10.6"/>
<path class="g" d="M235.8 452.8 h5.4"/>
<!-- p70_base130.py -->
<path class="w" d="M155.3 565 l2.6 -2 l2.6 1.4 L201.8 584.6 l3.4 -2 l1.6 1 l-3.6 4.6 l-2 .6 z"/>
<path class="m" d="M157.9 563 l-.4 2.8"/>
<ellipse class="m" cx="167.4" cy="568.6" rx="1" ry=".6"/><ellipse class="m" cx="191.4" cy="581.4" rx="1" ry=".6"/>
<path class="w" d="M159.6 558.3 L323.5 475.5 L377.2 500.2 L206.7 581.5 L160.4 560.9z"/>
<path class="l" d="M206.7 581.5 l1.2 4.3 L373 506.6 l4.2 -6.4 M206.7 581.5 l-1.4 1.2"/>
<path class="m" d="M207.3 583.9 L376.4 502.6 M160.4 560.9 l46.6 21.6"/>
<path class="g" d="M163 559.6 L207.6 580.2 L375 499.6"/>
<path class="m" d="M372.4 497.2 l4.8 3"/>
<ellipse class="l" cx="232.5" cy="544.6" rx="17.2" ry="8.7"/><ellipse class="m" cx="232.7" cy="545.3" rx="15.9" ry="7.6"/>
<path d="M194.79999999999998 549.0 l1.6 .8" stroke="#555" stroke-width="1.1" fill="none"/>
<path d="M175.89999999999998 557.9 l1.6 .8" stroke="#555" stroke-width="1.1" fill="none"/>
<path d="M221.39999999999998 562.4 l1.6 .8" stroke="#555" stroke-width="1.1" fill="none"/>
<path d="M203.39999999999998 571.6 l1.6 .8" stroke="#555" stroke-width="1.1" fill="none"/>
<path class="g" d="M252.7 567.8 v6.8"/>
<path class="d" d="M168.2 546 V569"/>
<path style="stroke-width:1.4;stroke:#555" class="k" d="M167.9 539.4 l.3 6"/>
<ellipse class="w" cx="167.7" cy="537" rx="3" ry="2.5"/><ellipse class="m" cx="167.7" cy="536.6" rx="1.8" ry="1.3"/>
<path class="g" d="M158.4 537 h5.4"/>
<path class="w" d="M240.9 520.9 l3.9 -2 V498.4 l4.5 -2 l4.5 2.6 q2 14 14 21.8 l5.9 -.6 l2.6 -2.4 v-4 l3 -1.8 l6 2.6 v4.6 l6 3.4 l4.4 -2 v10.4 l-7 4 l-7.4 -3.6 l-3 5.8 l-3.2 1.8 z"/>
<path class="l" d="M244.8 519 L281.4 538.3 M253.7 499.4 l-4.4 2 v4 M249.3 501.4 q1.4 12.6 12 20 M261 509.4 v6.4 l6 3.6"/>
<path class="m" d="M246.6 499 v19 M276.3 517.8 v10 l2.8 1.4 v5.4 M276.3 527.8 l6.4 -3.6 l2.6 1.4 v3.4 M288.6 524.6 l-.4 9.6 M273.7 520.6 l2.6 1.2"/>
<circle cx="249" cy="523.4" r=".5" fill="#666"/>
<circle cx="262" cy="530.2" r=".5" fill="#666"/>
<circle cx="274" cy="536.4" r=".5" fill="#666"/>
<path class="w" d="M249.4 487.6 q1.6 -1 3.2 0 v9.6 h-3.2z"/>
<ellipse class="w" cx="251.0" cy="497.5" rx="2.8" ry="1.3"/>
<path class="m" d="M250.4 488.0 v9"/>
<path class="w" d="M281.6 503 q1.6 -1 3.2 0 v9.6 h-3.2z"/>
<ellipse class="w" cx="283.20000000000005" cy="512.9" rx="2.8" ry="1.3"/>
<path class="m" d="M282.6 503.4 v9"/>
<path class="d" d="M309.3 455 V505"/><circle class="m" cx="309.3" cy="506.4" r=".9"/>
<path class="w" d="M315 485 L349.3 503.8 L357.9 500.4 L324 482.4z"/>
<path class="m" d="M320 485.4 L349 501"/>
<circle cx="326" cy="489.6" r=".5" fill="#666"/>
<circle cx="338" cy="496" r=".5" fill="#666"/>
<circle cx="347" cy="500.6" r=".5" fill="#666"/>
<path class="w" d="M322.1 466 L349 479.6 V493 L322.1 480.7z"/>
<path class="w" d="M317.9 463.6 L349.3 479.3 l.2 3.4 L347.9 483.4 L317.9 467.3z"/>
<path class="m" d="M319.6 463 L350.4 478.4"/>
<path class="l" d="M330.8 473.4 q-.4 6.6 5 7.6 q5 .6 5.6 -3.4"/><path class="m" d="M332.4 474.4 q.2 4.6 4 5.4"/>
<path class="w" d="M312.9 468.4 q-2.6 9 -8.6 17.6 l.6 5.2 l8.6 1 l5.2 -7.4 v-17z"/>
<path class="m" d="M316 469 q-2.4 9.6 -7.6 17.6 l-4 -.6 M308.4 486.6 l.6 5 M316.6 470 v13.6"/>
<path class="w" d="M314.4 453.8 q1.4 -.9 2.8 0 v11.6 h-2.8z"/><path class="m" d="M315.4 454 v11"/>
<ellipse class="w" cx="315.4" cy="466.4" rx="3.6" ry="1.7"/><ellipse cx="315.4" cy="465.6" rx="3.4" ry="1.5" fill="#888" stroke="#444" stroke-width=".7"/>
<path class="w" d="M350 483 l5 -2.4 l3.4 1.8 v8.4 l-4.6 2.4 l-3.8 -2z"/><path class="m" d="M353.8 485.2 v8 M353.8 485.2 l4.6 -2.6 M350 483 l3.8 2.2"/>
<ellipse class="w" cx="359.4" cy="494" rx="3.4" ry="2.4"/><path class="m" d="M356 494 v3 q3.4 2.6 6.8 0 v-3"/>
<path class="w" d="M364 491.6 l3.4 -1.2 l2.2 1.2 v3.4 l-3.2 1.4 l-2.4 -1.4z"/>
<path class="w" d="M348.6 453.6 L355 450.7 L365 449.3 V456.4 L355 462.1 l-.6 -5.4 l-3.6 1.6 V492 h-2.2z"/>
<path class="m" d="M350.8 458.3 v-3.6 l4.4 -2 l.4 9 M355.2 452.7 l9.6 -1.2"/><circle class="m" cx="360.6" cy="454.6" r=".9"/>
<path class="w" d="M343.1 435.6 L360.6 432.6 q1.4 0 1.4 1.4 V450.4 L350.6 452.4 V446 L343.1 442z"/>
<path class="m" d="M343.1 435.6 l.2 6.4 M345.2 437 v4.6 l5 2.6"/>
<path class="l" d="M356.4 439.2 l-1.3 3.2 a1.9 1.9 0 1 0 2.6 0z"/>
<path class="g" d="M363.4 438.2 h4"/>
<ellipse class="w" cx="308.8" cy="549" rx="4.2" ry="1.9"/><ellipse class="w" cx="308.8" cy="548" rx="4.2" ry="1.9"/><ellipse class="m" cx="308.8" cy="547.8" rx="1.6" ry=".7"/>
<!-- p80_valve.py -->
<path style="stroke:#999" class="g" d="M343.6 312.1 L392.1 288.6 L463.6 324.3 V382.9 M463.6 360.7 h4.4"/>
<path class="dd" d="M343.6 325.7 C342.4 325.7 341.9 324.7 340.0 325.7 C338.1 326.7 337.6 322.4 337.8 328.8 C338.0 335.2 335.4 331.0 340.7 345.0 C346.0 359.0 345.5 357.4 353.6 370.7 C361.7 384.0 357.2 374.3 365.0 385.0 C372.8 395.7 370.0 385.5 377.1 402.9 C384.2 420.3 381.7 412.7 386.3 437.1 C390.9 461.5 388.6 449.3 390.9 476.0 C393.2 502.7 391.9 493.1 393.1 517.1 C394.3 541.1 394.6 533.4 394.6 548.0 C394.6 562.6 395.9 554.9 393.2 561.0 C390.5 567.1 390.7 566.1 386.5 566.3 C382.3 566.5 384.4 566.0 380.5 561.5 C376.6 557.0 376.7 555.7 374.8 552.8"/>
<path style="stroke-width:1.2;stroke:#555" class="k" d="M343.8 325.8 l5.4 2.6"/>
<path class="w" d="M349 327.4 l2.2 -.6 l5.6 2.8 q1 1.6 -.2 3.6 l-2 .8 l-5.6 -2.8 q-1 -1.8 0 -3.8z"/>
<path class="m" d="M351.2 326.8 q-1.2 2 -.2 4 M353.4 328 q-1.2 2 -.2 4 M355.2 329 q-1 2 0 3.8"/>
<path class="g" d="M353.6 321.6 v5.4"/>
<path class="w" d="M359.3 331.6 l2.4 -1 L372.9 327.9 L373.6 341.4 L362.4 345.8 l-2.4 .4 z"/>
<path class="l" d="M361.7 330.6 l.7 15.2"/>
<ellipse class="l" cx="367.9" cy="337" rx="3.9" ry="4.5" transform="rotate(-15 367.9 337)"/><path class="m" d="M365.2 334.2 q-.8 3.4 1.6 6.6"/>
<circle cx="360.5" cy="334.6" r=".5" fill="#555"/>
<circle cx="360.5" cy="338.4" r=".5" fill="#555"/>
<circle cx="360.5" cy="342.2" r=".5" fill="#555"/>
<ellipse class="w" cx="377.9" cy="336.2" rx="2.2" ry="1.8"/><ellipse cx="378.1" cy="336.2" rx="1" ry=".8" fill="#666"/>
<path class="w" d="M377.4 343 q1.2 -2.6 3.8 -2.2 l7.8 3.6 q2.6 2.8 .8 7.2 l-2.6 .6 l-8 -3.8 q-2.6 -2.4 -1.8 -5.4z"/>
<path class="l" d="M386.4 343.2 q-2.8 3.4 -.2 8.6"/><path class="m" d="M381.2 340.8 q-2 3.2 .2 8 M383.8 342 q-2.2 3.2 0 8.2"/>
<path class="w" d="M392.6 348.4 l3 -.6 l8.6 4.6 q.8 1.8 -.4 3.8 l-2 .4 l-9.4 -3.2 q-1.4 -2.6 .2 -5z"/>
<path class="m" d="M395.6 347.8 q-1.8 2.4 -.2 5.8 M402.2 351.4 q-1 2 -.2 4.4"/>
<ellipse class="w" cx="406.5" cy="357.6" rx="1.7" ry="2.4" transform="rotate(-25 406.5 357.6)"/>
<path class="g" d="M401 338.2 v15.4"/>
<path fill="none" stroke="#505050" stroke-width="4.8" stroke-linecap="round" d="M386.4 307.4 L414.6 322 q5.8 3.2 6 9.6 V338"/>
<path fill="none" stroke="#fff" stroke-width="3.2" stroke-linecap="round" d="M386.4 307.4 L414.6 322 q5.8 3.2 6 9.6 V339"/>
<path class="w" d="M415.6 337.6 q5 -2 10 0 l.4 6.4 q-5.4 2.6 -10.6 0z"/><path class="m" d="M418.6 337 l.2 8 M423.2 337 l.2 7.8 M415.6 339.6 q5 2 10 0"/>
<path class="w" d="M417.8 346.6 q3 -1.2 5.8 0 v3.4 q-3 1.4 -5.8 0z"/>
<path class="d" d="M450.6 379 L459 383.6 M426.4 380.6 V518"/>
<path style="stroke:#999" class="g" d="M463.6 382.9 L423.6 400"/>
<path class="w" d="M412.4 357.2 q-3 1.6 -3 6 q.4 4.6 3.6 5.2 l4 -1.4 l.2 -9z"/>
<ellipse class="m" cx="412.6" cy="362.8" rx="2.2" ry="4.6" transform="rotate(-10 412.6 362.8)"/>
<path class="w" d="M416.4 355 V360.4 l-1.4 .6 l.2 8 l6 4 l4.6 -.6 l3.6 3.2 l7.6 2.2 l3 -4.2 l-.6 -5 l-3.6 -3.4 l-5 -1.4 l-6.4 -3.4 V355z"/>
<ellipse class="w" cx="420.7" cy="355" rx="4.3" ry="1.9"/><ellipse class="m" cx="420.7" cy="355.2" rx="2.8" ry="1.1"/>
<path class="l" d="M416.4 360.4 q4.3 2 8.6 0 M421 369.6 q-2 -3.6 .4 -8 M430.4 364.6 q-2.8 4.6 -1 10.4 M434 366 q-2.6 4.4 -1.2 10"/>
<path d="M423.6 364 l5 2.4 M422.8 366.8 l5.4 2.6 M423 369.6 l4.6 2.4" style="stroke:#555;stroke-width:1;fill:none"/>
<path class="m" d="M418 362 l-.2 7"/>
<path class="w" d="M423.6 373.6 q2.8 1.4 5.8 0 v4.6 q-3 1.6 -5.8 0z"/>
<path class="w" d="M438.4 370.4 l3.4 1.4 l-1.2 4.4 l-3.4 -1.6z"/>
<path class="w" d="M441.4 372.2 l6 3 l-1.4 3.8 l-6 -3z"/>
<path d="M447 375 l3.6 1.9 l-1.4 3.7 l-3.6 -1.9z" style="fill:#555;stroke:#333;stroke-width:.8"/>
<!-- p90_box250.py -->
<path class="w" d="M441.6 415.8 L452.5 408.8 L493 429.3 L494.3 458.9 L478.8 463.4 L442.2 445.4z"/>
<path class="l" d="M441.6 415.8 L478.2 433.2 L493 429.3 M478.2 433.2 L478.8 463.4"/>
<path d="M452.5 408.8 L493 429.3 l-2.6 .7 L451.2 410.2z" fill="#555" stroke="#444" stroke-width=".6"/>
<path class="l" d="M446 413.4 L483.4 431.6 l7 -1.8 M447.4 412.2 l2 3 M481 430.4 l2.6 2"/>
<path class="m" d="M448.8 414.6 L482 430.8 M479.8 434.8 l12 -3.2 M486.4 433.4 l.8 24 M488.6 432.8 l.8 17"/>
<path class="l" d="M444.4 434 L472 447.6 V459.8 M444.4 434 V445.6 M447.6 439.4 l9 4.4 v6 M456.6 443.8 l5 -2 M463 447.4 l8 4 M463 447.4 v6"/>
<path class="m" d="M446.6 436.6 l24.6 12 M449 446.8 l7 -3 M459.4 453.2 l4 -1.8"/>
<path class="l" d="M460.8 428.6 l-1 1.6 l2 1.4 l-2 1.4 l2 1.4 l-2 1.4 l2 1.4 l-1 1.4 M460.8 426.6 v2 M459.8 427.8 l1 -1.4 l1 1.4"/>
<circle class="m" cx="460.8" cy="440.6" r="1"/><circle class="m" cx="475.6" cy="441.6" r="1.1"/>
<path class="w" d="M474 450.6 l4 -1.6 l5.8 2.8 v7.6 l-4 1.6 l-5.8 -2.8z"/><path class="l" d="M474 450.6 l5.8 2.8 l4 -1.6 M479.8 453.4 v7.6 M476.8 452 v7.4 M474.4 454.4 l5.4 2.6 l3.6 -1.4"/>
<path class="g" d="M465.3 408.2 v4.4"/>
<path class="w" d="M486.2 411.5 L507.6 422.8 q1.8 3.2 -1.4 6 l-1.6 .4 L483 417.6 q-2.4 -2.6 -.2 -5.4 q1.4 -1.6 3.4 -.7z"/>
<ellipse class="l" cx="505.9" cy="425.9" rx="2.1" ry="3.3" transform="rotate(-25 505.9 425.9)"/>
<path class="m" d="M486.6 413.4 L505.6 423.4 M502.4 421 q-2.4 3 -.8 5.8"/>
<path style="stroke:#b55" class="g" d="M502.6 413.6 l.7 5.4"/>
<!-- p95_knob.py -->
<path style="stroke:#999" class="g" d="M513.6 492.9 L572.8 521.1 V548.1 M536.8 495.6 v8.2"/>
<path class="d" d="M452 491 L504 517 M527 525.6 L552 539 M543.2 541.7 V559.7 M442.5 514.4 L535 558.8"/>
<path class="w" d="M508.6 511.4 L520 514.6 q6 1.6 6.2 9 q-.4 7.4 -6 8.2 L508.8 528.2 q-4.2 -1.2 -4.2 -8.6 q.2 -7 4 -8.2z"/>
<path class="m" d="M508.6 511.4 q3.6 1.6 3.8 8.8 q-.2 6.6 -3.6 8"/>
<ellipse cx="520.1" cy="523.2" rx="5.6" ry="8.3" fill="#fff" stroke="#444" stroke-width="1.5" transform="rotate(-12 520.1 523.2)"/>
<ellipse class="m" cx="520.6" cy="523.4" rx="3.8" ry="6.4" transform="rotate(-12 520.6 523.4)"/>
<path class="g" d="M516 520 l8 4.4 M519 527 l2.6 -5"/>
<path class="w" d="M528.2 528 l3.6 -3.6 l3.4 1 l.8 4.4 l-3 4.6 l-3.6 -.6z"/><ellipse class="l" cx="532" cy="529.6" rx="1.7" ry="2.6" transform="rotate(-15 532 529.6)"/>
<path class="m" d="M531.8 524.4 l-.8 -1 l-3.4 3.6 l.6 1"/>
<path style="stroke-width:1.2" class="l" d="M545.6 533.2 q-3 -2.4 -5 .4 q-2 3.6 .6 6.8 q2.4 1.6 4 -.6 M545.2 535.8 q-1.6 -1 -2.6 .4 q-.8 1.8 .4 3"/>
<path d="M552.6 537 l4 -1.8 l6.6 3 v11 l-4.4 2 l-6.4 -4.2 q-2.6 -5 .2 -10z" fill="#8a8a8a" stroke="#444" stroke-width=".9"/>
<path d="M553.6 538 l5.4 2.6 M553 540.6 l5.6 2.8 M552.6 543.2 l6 3 M553.2 546 l5.6 2.8 M556 535.6 v13" stroke="#444" stroke-width=".7" fill="none"/>
<ellipse class="w" cx="562.8" cy="544.6" rx="4.4" ry="6.2" transform="rotate(-14 562.8 544.6)"/><ellipse class="m" cx="563.4" cy="544.8" rx="3.2" ry="4.8" transform="rotate(-14 563.4 544.8)"/>
<path class="g" d="M559.3 530.2 v5"/>
<path style="stroke-width:1.1" class="w" d="M536.6 563 l4.6 -2.6 l6.6 1.8 v5.4 l-4.6 2.8 l-6.6 -1.8z"/><path class="l" d="M536.6 563 l6.6 1.8 l4.6 -2.6 M543.2 564.8 v5.6 M539.4 564 v4.6 M541.4 569 l2 -3 l2.6 -.6"/>
<path class="g" d="M531.4 567.4 h4.4"/>
<path style="stroke-width:1.1;stroke:#444" class="k" d="M541.6 570.4 l.6 4 l.6 5.6 M542.4 573 l6.6 14"/>
<path d="M542.9 580 V616" stroke="#444" stroke-width="2.6" stroke-dasharray="2.2 .9" fill="none"/>
<path d="M542.9 580 V616" stroke="#bbb" stroke-width=".8" stroke-dasharray="1.2 1.9" stroke-dashoffset="-.5" fill="none"/>
<path class="dd" d="M476.6 458 q-8 4 -13.4 12 q-5.6 8.6 -5.6 20 q-.4 26 2 48 q2.6 22 16.6 41 q14 19 33 40 q14 12.6 23.4 11.6 q8.6 -.6 10 -8 l.4 -6"/>
<!-- p97_lower.py -->
<path class="d" d="M463.6 382.9 L361 430.6"/>
<path class="d" d="M322 446 q2.6 10 8.6 14.6 q6 4 21.4 8.8 q18 6.4 28.6 9.8 q8 1.6 14.6 -.8 L427.4 462.3 L446 453.6"/>
<path class="d" d="M362 449.4 L452 491 M352 472.4 L448 516.6 M442.5 487 V514.4"/>
<path class="d" d="M302.6 517 V606.3 L374.6 588 M309.3 508 V545"/>
<path class="w" d="M360.6 516.6 l1.4 -.2 l3.6 9 l2.2 5.6 l-2.4 1z"/>
<path class="w" d="M365.2 530.4 l2.6 -1 l4.4 11.4 l-2.8 1.2z"/><path class="w" d="M368.4 541.8 l4.6 -2 l1.2 2.6 l-4.6 2z"/>
<path style="stroke-width:1.3;stroke:#555" class="k" d="M371.4 544.4 l3.6 8.4"/>
<path class="g" d="M359.8 536.6 h5.4"/>
<path fill="none" stroke="#505050" stroke-width="3.4" stroke-linecap="butt" d="M426 532 q1 6 6 10.4 q6 5.6 6.4 14 q.2 9 -8 13 L404.3 582.3 L395 585.8"/>
<path fill="none" stroke="#fff" stroke-width="1.9" stroke-linecap="butt" d="M426 531 q1 7 6 11.4 q6 5.6 6.4 14 q.2 9 -8 13 L404.3 582.3 L394 586.2"/>
<path class="w" d="M421.6 523.6 q4.4 -2 9 0 l.2 6.4 q-1.6 2.6 -4.6 3 q-3.2 -.2 -4.8 -3z"/><path class="m" d="M424.4 523 l.2 9 M428.4 523 l.2 9 M421.6 525.6 q4.4 1.8 9 0"/>
<ellipse class="w" cx="426.1" cy="522.6" rx="2.6" ry="1.2"/>
<path class="w" d="M386 583.4 l5 -2.2 l4.6 1.6 l.8 5 l-3.2 3.4 l-5.4 -.4 l-2.6 -3.6z"/><path class="m" d="M388.4 582.4 l-.4 8.4 M392.4 581.6 l.6 9.4 M386 583.4 q4 2 9.6 -.6"/>
<path style="stroke-width:1.2;stroke:#555" class="k" d="M383.4 586.4 l2.6 .4"/>
<path class="g" d="M432.9 571 v5.6"/>
<ellipse style="stroke-width:1.1" class="l" cx="378" cy="587.6" rx="2.2" ry="3.8" transform="rotate(-12 378 587.6)"/>
<ellipse class="l" cx="380.4" cy="588.4" rx="1.8" ry="3.3" transform="rotate(-12 380.4 588.4)"/>
<path class="g" d="M380.3 593.6 v4.6"/>
</svg>
</body></html>
